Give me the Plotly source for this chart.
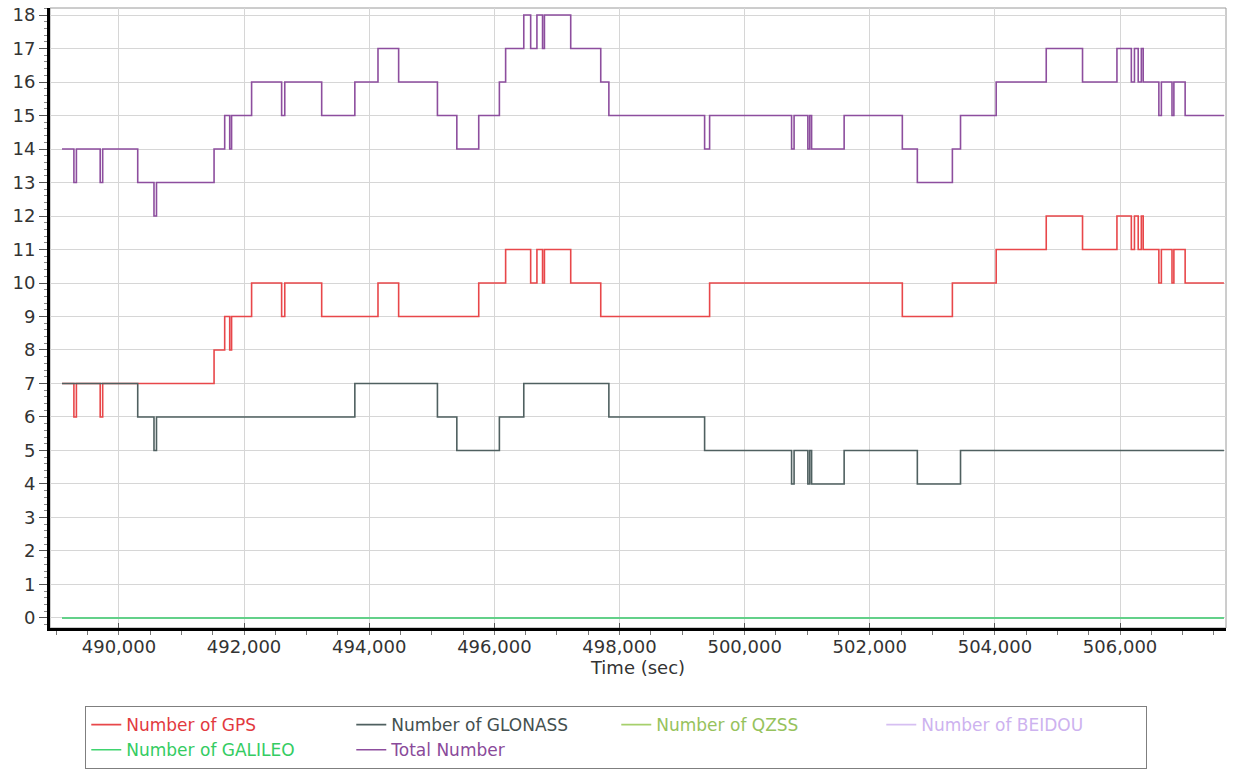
import plotly.graph_objects as go

# ---------------- data (step change points) ----------------
gps_t = [489090, 489280, 489320, 489700, 489740, 491520, 491690, 491770, 491800,
         492120, 492600, 492650, 493240, 494140, 494470, 495750, 496180, 496580,
         496680, 496770, 496800, 497220, 497700, 499440, 502520, 503320, 504020,
         504820, 505400, 505950, 506180, 506230, 506290, 506340, 506370, 506620,
         506660, 506830, 506860, 507040, 507660]
gps_v = [7, 6, 7, 6, 7, 8, 9, 8, 9,
         10, 9, 10, 9, 10, 9, 10, 11, 10,
         11, 10, 11, 10, 9, 10, 9, 10, 11,
         12, 11, 12, 11, 12, 11, 12, 11, 10,
         11, 10, 11, 10, 10]

glonass_t = [489090, 490300, 490560, 490600, 493770, 495090, 495400, 496080, 496470,
             497830, 499360, 500750, 500790, 501010, 501040, 501070, 501590, 502760,
             503450, 507660]
glonass_v = [7, 6, 5, 6, 7, 6, 5, 6, 7,
             6, 5, 4, 5, 4, 5, 4, 5, 4,
             5, 5]

total_t = [489090, 489280, 489320, 489700, 489740, 490300, 490560, 490600, 491520,
           491690, 491770, 491800, 492120, 492600, 492650, 493240, 493770, 494140,
           494470, 495090, 495400, 495750, 496080, 496180, 496470, 496580, 496680,
           496770, 496800, 497220, 497700, 497830, 499360, 499440, 500750, 500790,
           501010, 501040, 501070, 501590, 502520, 502760, 503320, 503450, 504020,
           504820, 505400, 505950, 506180, 506230, 506290, 506340, 506370, 506620,
           506660, 506830, 506860, 507040, 507660]
total_v = [14, 13, 14, 13, 14, 13, 12, 13, 14,
           15, 14, 15, 16, 15, 16, 15, 16, 17,
           16, 15, 14, 15, 16, 17, 18, 17, 18,
           17, 18, 17, 16, 15, 14, 15, 14, 15,
           14, 15, 14, 15, 14, 13, 14, 15, 16,
           17, 16, 17, 16, 17, 16, 17, 16, 15,
           16, 15, 16, 15, 15]

zero_t = [489090, 507660]
qzss_v = [0, 0]
beidou_v = [0, 0]
galileo_v = [0, 0]

x_ticks = [490000, 492000, 494000, 496000, 498000, 500000, 502000, 504000, 506000]

# ---------------- figure ----------------
FONT = "DejaVu Sans"
series = [
    ("Number of GPS", gps_t, gps_v, "#e8474a", "#e23a3f", 1),
    ("Number of GLONASS", glonass_t, glonass_v, "#4f6060", "#44504f", 2),
    ("Number of QZSS", zero_t, qzss_v, "#a6d06c", "#96c25c", 3),
    ("Number of BEIDOU", zero_t, beidou_v, "#d6bff2", "#cdb2ef", 4),
    ("Number of GALILEO", zero_t, galileo_v, "#3fd46f", "#34cc62", 5),
    ("Total Number", total_t, total_v, "#8d4e9e", "#8a4a9a", 6),
]

fig = go.Figure()
for name, t, v, col, tcol, rank in series:
    fig.add_trace(go.Scatter(
        x=t, y=v, mode="lines", line=dict(color=col, width=1.6, shape="hv"),
        name=f"<span style='color:{tcol}'>{name}</span>", legendrank=rank,
    ))

fig.update_layout(
    width=1236, height=769,
    margin=dict(l=50, r=10, t=8, b=141, autoexpand=False),
    paper_bgcolor="white", plot_bgcolor="white",
    font=dict(family=FONT, size=18, color="#333333"),
    showlegend=True,
    legend=dict(
        orientation="h", x=0.03, xanchor="left", y=-0.126, yanchor="top",
        bordercolor="#7f7f7f", borderwidth=1, bgcolor="white",
        font=dict(family=FONT, size=17),
        entrywidth=220, entrywidthmode="pixels",
        itemwidth=30, tracegroupgap=0,
    ),
    xaxis=dict(
        range=[488898, 507693], tickvals=x_ticks, tickformat=",",
        automargin=False,
        showgrid=True, gridcolor="#d6d6d6", gridwidth=1,
        showline=True, linecolor="black", linewidth=3,
        ticks="inside", ticklen=5, tickcolor="#555555",
        minor=dict(dtick=500, tick0=490000, ticks="outside", ticklen=4, tickcolor="#777777", showgrid=False),
        title=dict(text="Time (sec)", font=dict(family=FONT, size=18, color="#333333"), standoff=2),
        tickfont=dict(family=FONT, size=18, color="#333333"),
        zeroline=False,
    ),
    yaxis=dict(
        range=[-0.3, 18.21], dtick=1, tick0=0,
        automargin=False,
        showgrid=True, gridcolor="#d6d6d6", gridwidth=1,
        showline=True, linecolor="black", linewidth=3,
        ticks="outside", ticklen=8, tickcolor="#555555",
        minor=dict(dtick=0.2, ticks="outside", ticklen=3, tickcolor="#888888", showgrid=False),
        tickfont=dict(family=FONT, size=18, color="#333333"),
        zeroline=False,
    ),
    shapes=[dict(type="rect", xref="paper", yref="paper", x0=0, x1=1, y0=0, y1=1,
                 line=dict(color="#9a9a9a", width=1), layer="below")],
)

# remove the browser's default 8px body margin so the 1236x769 figure fills the window
fig.write_html("out.html", config={"displayModeBar": False},
               post_script="document.body.style.margin='0';")
